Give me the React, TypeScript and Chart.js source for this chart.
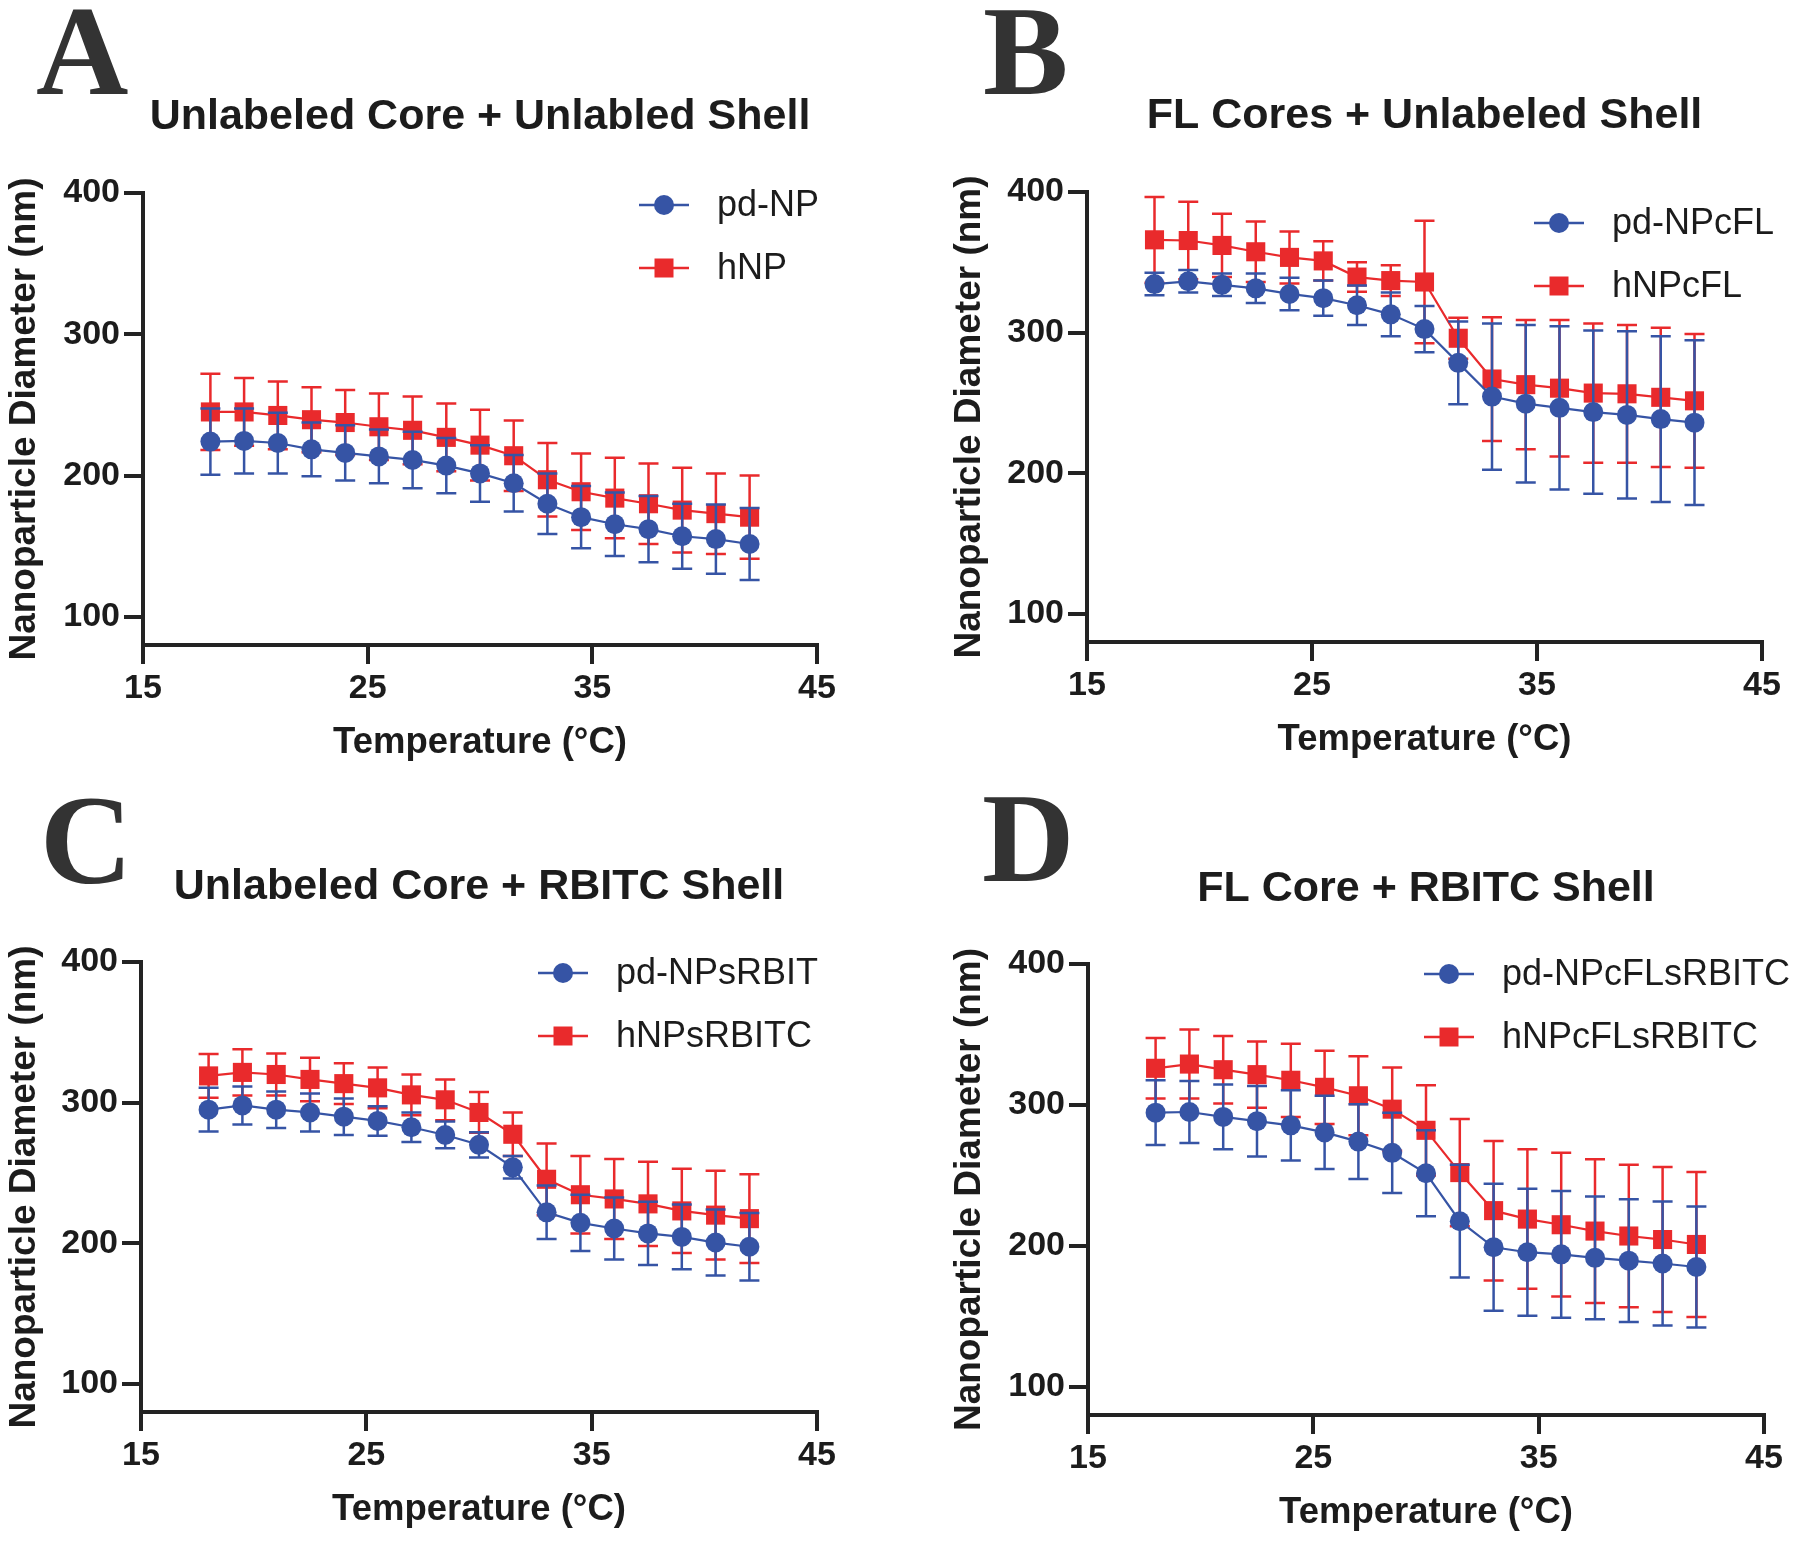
import React, { useEffect, useRef } from "react";
import { Chart, registerables } from "chart.js";

Chart.register(...registerables);

// ---------------- data ----------------
const temperatures = [18, 19.5, 21, 22.5, 24, 25.5, 27, 28.5, 30, 31.5, 33, 34.5, 36, 37.5, 39, 40.5, 42];
const xTicks = [15, 25, 35, 45];
const yTicks = [100, 200, 300, 400];

// Panel A
const pdNP = [224, 224.5, 223, 218.5, 216, 213.5, 211, 207, 201.5, 194.5, 180, 170.5, 165.5, 162, 157, 155, 151.5];
const pdNPErr = [23.5, 23, 21.5, 19, 19.5, 19, 20, 19.5, 20, 20, 21.5, 22, 22.5, 23.5, 23, 24.5, 25.5];
const hNP = [245, 245, 242.5, 239.5, 237.5, 234.5, 232, 227, 221.5, 214, 197, 188.5, 184, 180, 175.5, 173, 170.5];
const hNPErr = [27, 24, 24, 23, 23, 23.5, 24, 24, 25, 25, 26, 27, 28.5, 28.5, 30, 28.5, 29.5];

// Panel B
const pdNPcFL = [334.5, 336.5, 334, 331.5, 327.5, 324.5, 319.5, 313, 302.5, 278.5, 254.5, 249.5, 246.5, 243.5, 241.5, 238.5, 236];
const pdNPcFLErr = [8, 8, 8, 10.5, 11.5, 12.5, 14, 15.5, 16.5, 29.5, 52, 56, 58, 58, 59.5, 59, 58.5];
const hNPcFL = [366, 365.5, 362, 357.5, 353.5, 351, 339.5, 337, 336, 296, 267, 263, 260.5, 257, 256.5, 254, 251.5];
const hNPcFLErr = [30.5, 27.5, 22.5, 21.5, 18.5, 14, 10.5, 11, 43.5, 14.5, 44, 46, 48.5, 49.5, 49, 49.5, 47.5];

// Panel C
const pdNPsRBIT = [295, 298, 295, 293, 290, 287, 282.5, 277, 270, 254, 222, 214.5, 210.5, 207, 204.5, 200.5, 197.5];
const pdNPsRBITErr = [15.5, 13.5, 13, 13.5, 13, 10.5, 10.5, 9.5, 9, 8, 19, 20, 22, 22.5, 23, 23.5, 24];
const hNPsRBITC = [319, 321.5, 320, 316.5, 313.5, 310.5, 305.5, 302, 293, 277.5, 245.5, 234.5, 231.5, 228, 223, 220, 217.5];
const hNPsRBITCErr = [15.5, 16.5, 15, 15.5, 14.5, 14.5, 14.5, 14.5, 14.5, 15.5, 25.5, 27.5, 28.5, 30, 30, 31.5, 31.5];

// Panel D
const pdNPcFLsRBITC = [294.5, 295, 291.5, 288.5, 285.5, 280.5, 274, 266, 251.5, 217.5, 199, 195.5, 194, 191.5, 189.5, 187.5, 185];
const pdNPcFLsRBITCErr = [23, 22, 23, 25, 25, 26, 26.5, 28.5, 30.5, 40, 45, 45, 45, 43.5, 43.5, 44, 43];
const hNPcFLsRBITC = [326, 329, 325, 321.5, 317.5, 312.5, 306.5, 297, 282, 252, 225, 219, 215, 210.5, 207, 204.5, 201];
const hNPcFLsRBITCErr = [21.5, 24.5, 24, 23.5, 26, 26, 28, 29.5, 32, 38, 49.5, 49.5, 51, 51, 50.5, 51.5, 51.5];

const xTitle = "Temperature (°C)";
const yTitle = "Nanoparticle Diameter (nm)";

// ---------------- styles ----------------
const BLUE = "#3654a5";
const RED = "#e92a2c";
const INK = "#1c1c1c";
const AXIS = "#232323";
const SANS = '"Liberation Sans", Arial, Helvetica, sans-serif';
const NARROW = '"Liberation Sans Narrow", "Arial Narrow", "Liberation Sans", Arial, sans-serif';
const SERIF = '"Liberation Serif", "Times New Roman", Times, serif';
const W = 900;
const H = 772;
const X_AXIS_H = 120;

type PanelCfg = {
  left: number;
  top: number;
  letter: string;
  title: string;
  area: { left: number; right: number; top: number; bottom: number };
  titleY: number;
  yTitleX: number;
  letterPos: { x: number; y: number };
  legendPos: { x: number; y: number };
  series: { label: string; values: number[]; errors: number[]; color: string; style: string }[];
};

const panels: PanelCfg[] = [
  {
    left: 0, top: 0, letter: "A", title: "Unlabeled Core + Unlabled Shell",
    area: { left: 143, right: 817, top: 193, bottom: 645 }, titleY: 117, yTitleX: 25,
    letterPos: { x: 36, y: 94 }, legendPos: { x: 639, y: 205 },
    series: [
      { label: "pd-NP", values: pdNP, errors: pdNPErr, color: BLUE, style: "circle" },
      { label: "hNP", values: hNP, errors: hNPErr, color: RED, style: "rect" },
    ],
  },
  {
    left: 900, top: 0, letter: "B", title: "FL Cores + Unlabeled Shell",
    area: { left: 187, right: 862, top: 192, bottom: 642 }, titleY: 116, yTitleX: 70,
    letterPos: { x: 83, y: 94 }, legendPos: { x: 634, y: 223 },
    series: [
      { label: "pd-NPcFL", values: pdNPcFL, errors: pdNPcFLErr, color: BLUE, style: "circle" },
      { label: "hNPcFL", values: hNPcFL, errors: hNPcFLErr, color: RED, style: "rect" },
    ],
  },
  {
    left: 0, top: 772, letter: "C", title: "Unlabeled Core + RBITC Shell",
    area: { left: 141, right: 817, top: 190, bottom: 640 }, titleY: 115.5, yTitleX: 25,
    letterPos: { x: 40, y: 111 }, legendPos: { x: 538, y: 201 },
    series: [
      { label: "pd-NPsRBIT", values: pdNPsRBIT, errors: pdNPsRBITErr, color: BLUE, style: "circle" },
      { label: "hNPsRBITC", values: hNPsRBITC, errors: hNPsRBITCErr, color: RED, style: "rect" },
    ],
  },
  {
    left: 900, top: 772, letter: "D", title: "FL Core + RBITC Shell",
    area: { left: 188, right: 864, top: 192, bottom: 643 }, titleY: 117, yTitleX: 70,
    letterPos: { x: 82, y: 109 }, legendPos: { x: 524, y: 202 },
    series: [
      { label: "pd-NPcFLsRBITC", values: pdNPcFLsRBITC, errors: pdNPcFLsRBITCErr, color: BLUE, style: "circle" },
      { label: "hNPcFLsRBITC", values: hNPcFLsRBITC, errors: hNPcFLsRBITCErr, color: RED, style: "rect" },
    ],
  },
];

// ---------------- plugins ----------------
const errorBarPlugin = {
  id: "errorBars",
  beforeDatasetDraw(chart: any, args: any) {
    const ds = chart.data.datasets[args.index];
    const errs: number[] = ds.errors || [];
    const yScale = chart.scales.y;
    const ctx = chart.ctx;
    ctx.save();
    ctx.strokeStyle = ds.borderColor;
    ctx.lineWidth = 2.5;
    args.meta.data.forEach((pt: any, i: number) => {
      const v = ds.data[i].y;
      const e = errs[i] || 0;
      const yt = yScale.getPixelForValue(v + e);
      const yb = yScale.getPixelForValue(v - e);
      const x = pt.x;
      const cap = 10;
      ctx.beginPath();
      ctx.moveTo(x, yt);
      ctx.lineTo(x, yb);
      ctx.moveTo(x - cap, yt);
      ctx.lineTo(x + cap, yt);
      ctx.moveTo(x - cap, yb);
      ctx.lineTo(x + cap, yb);
      ctx.stroke();
    });
    ctx.restore();
  },
};

const decorPlugin = {
  id: "panelDecor",
  afterDraw(chart: any, _args: any, opts: any) {
    const ctx = chart.ctx;
    ctx.save();
    // panel letter
    ctx.fillStyle = "#333333";
    ctx.font = `bold 128px ${SERIF}`;
    ctx.textBaseline = "alphabetic";
    ctx.textAlign = "left";
    ctx.fillText(opts.letter, opts.letterPos.x, opts.letterPos.y);
    // legend
    const rowGap = 63;
    chart.data.datasets.forEach((ds: any, i: number) => {
      const y = opts.legendPos.y + i * rowGap;
      const x0 = opts.legendPos.x;
      ctx.strokeStyle = ds.borderColor;
      ctx.lineWidth = 2.5;
      ctx.beginPath();
      ctx.moveTo(x0, y);
      ctx.lineTo(x0 + 50, y);
      ctx.stroke();
      ctx.fillStyle = ds.borderColor;
      const cx = x0 + 25;
      if (ds.pointStyle === "rect") {
        const s = 9.5;
        ctx.fillRect(cx - s, y - s, 2 * s, 2 * s);
      } else {
        ctx.beginPath();
        ctx.arc(cx, y, 10, 0, Math.PI * 2);
        ctx.fill();
      }
      ctx.fillStyle = INK;
      ctx.font = `36px ${SANS}`;
      ctx.textBaseline = "middle";
      ctx.fillText(ds.label, x0 + 78, y + 1);
    });
    ctx.restore();
  },
};

function buildConfig(p: PanelCfg): any {
  const a = p.area;
  const padLeft = p.yTitleX - 22 - 4;
  const yAxisW = a.left - padLeft;
  const titleLH = 43 * 1.2;
  return {
    type: "line",
    data: {
      datasets: p.series.map((s) => ({
        label: s.label,
        data: temperatures.map((t, i) => ({ x: t, y: s.values[i] })),
        errors: s.errors,
        borderColor: s.color,
        backgroundColor: s.color,
        borderWidth: 2.2,
        pointStyle: s.style,
        pointRadius: s.style === "rect" ? 13.5 : 10,
        pointBackgroundColor: s.color,
        pointBorderWidth: 0,
        showLine: true,
        tension: 0,
        clip: false,
      })),
    },
    options: {
      animation: false,
      responsive: false,
      maintainAspectRatio: false,
      devicePixelRatio: 1,
      events: [],
      layout: {
        padding: { left: padLeft, right: W - a.right, top: 0, bottom: H - a.bottom - X_AXIS_H },
      },
      plugins: {
        legend: { display: false },
        tooltip: { enabled: false },
        title: {
          display: true,
          text: p.title,
          fullSize: false,
          color: INK,
          font: { family: SANS, size: 43, weight: "bold", lineHeight: 1.2 },
          padding: { top: p.titleY - titleLH / 2, bottom: a.top - p.titleY - titleLH / 2 },
        },
        panelDecor: { letter: p.letter, letterPos: p.letterPos, legendPos: p.legendPos },
      },
      scales: {
        x: {
          type: "linear",
          min: 15,
          max: 45,
          afterBuildTicks: (s: any) => { s.ticks = xTicks.map((v) => ({ value: v })); },
          afterFit: (s: any) => { s.height = X_AXIS_H; },
          border: { display: true, width: 4, color: AXIS },
          grid: { display: true, drawOnChartArea: false, drawTicks: true, tickLength: 19, tickWidth: 4, tickColor: AXIS, lineWidth: 4, color: AXIS },
          ticks: { color: INK, padding: 4, maxRotation: 0, autoSkip: false, font: { family: NARROW, size: 34, weight: "bold" } },
          title: { display: true, text: xTitle, color: INK, font: { family: SANS, size: 36.5, weight: "bold", lineHeight: 1.2 }, padding: { top: 0, bottom: 0 } },
        },
        y: {
          type: "linear",
          min: 80,
          max: 400,
          afterBuildTicks: (s: any) => { s.ticks = yTicks.map((v) => ({ value: v })); },
          afterFit: (s: any) => { s.width = yAxisW; },
          border: { display: true, width: 4, color: AXIS },
          grid: { display: true, drawOnChartArea: false, drawTicks: true, tickLength: 19, tickWidth: 4, tickColor: AXIS, lineWidth: 4, color: AXIS },
          ticks: { color: INK, padding: 4, autoSkip: false, font: { family: NARROW, size: 34, weight: "bold" } },
          title: { display: true, text: yTitle, color: INK, font: { family: SANS, size: 37, weight: "bold", lineHeight: 1.2 }, padding: { top: 4, bottom: 0 } },
        },
      },
    },
    plugins: [errorBarPlugin, decorPlugin],
  };
}

function Panel({ cfg }: { cfg: PanelCfg }) {
  const ref = useRef<HTMLCanvasElement>(null);
  useEffect(() => {
    if (!ref.current) return;
    const chart = new Chart(ref.current, buildConfig(cfg));
    return () => chart.destroy();
  }, [cfg]);
  return (
    <canvas
      ref={ref}
      width={W}
      height={H}
      style={{ position: "absolute", left: cfg.left, top: cfg.top, width: W, height: H }}
    />
  );
}

export default function App() {
  return (
    <div style={{ position: "absolute", left: 0, top: 0, width: 1800, height: 1544, background: "#ffffff", overflow: "hidden" }}>
      {panels.map((p) => (
        <Panel key={p.letter} cfg={p} />
      ))}
    </div>
  );
}
